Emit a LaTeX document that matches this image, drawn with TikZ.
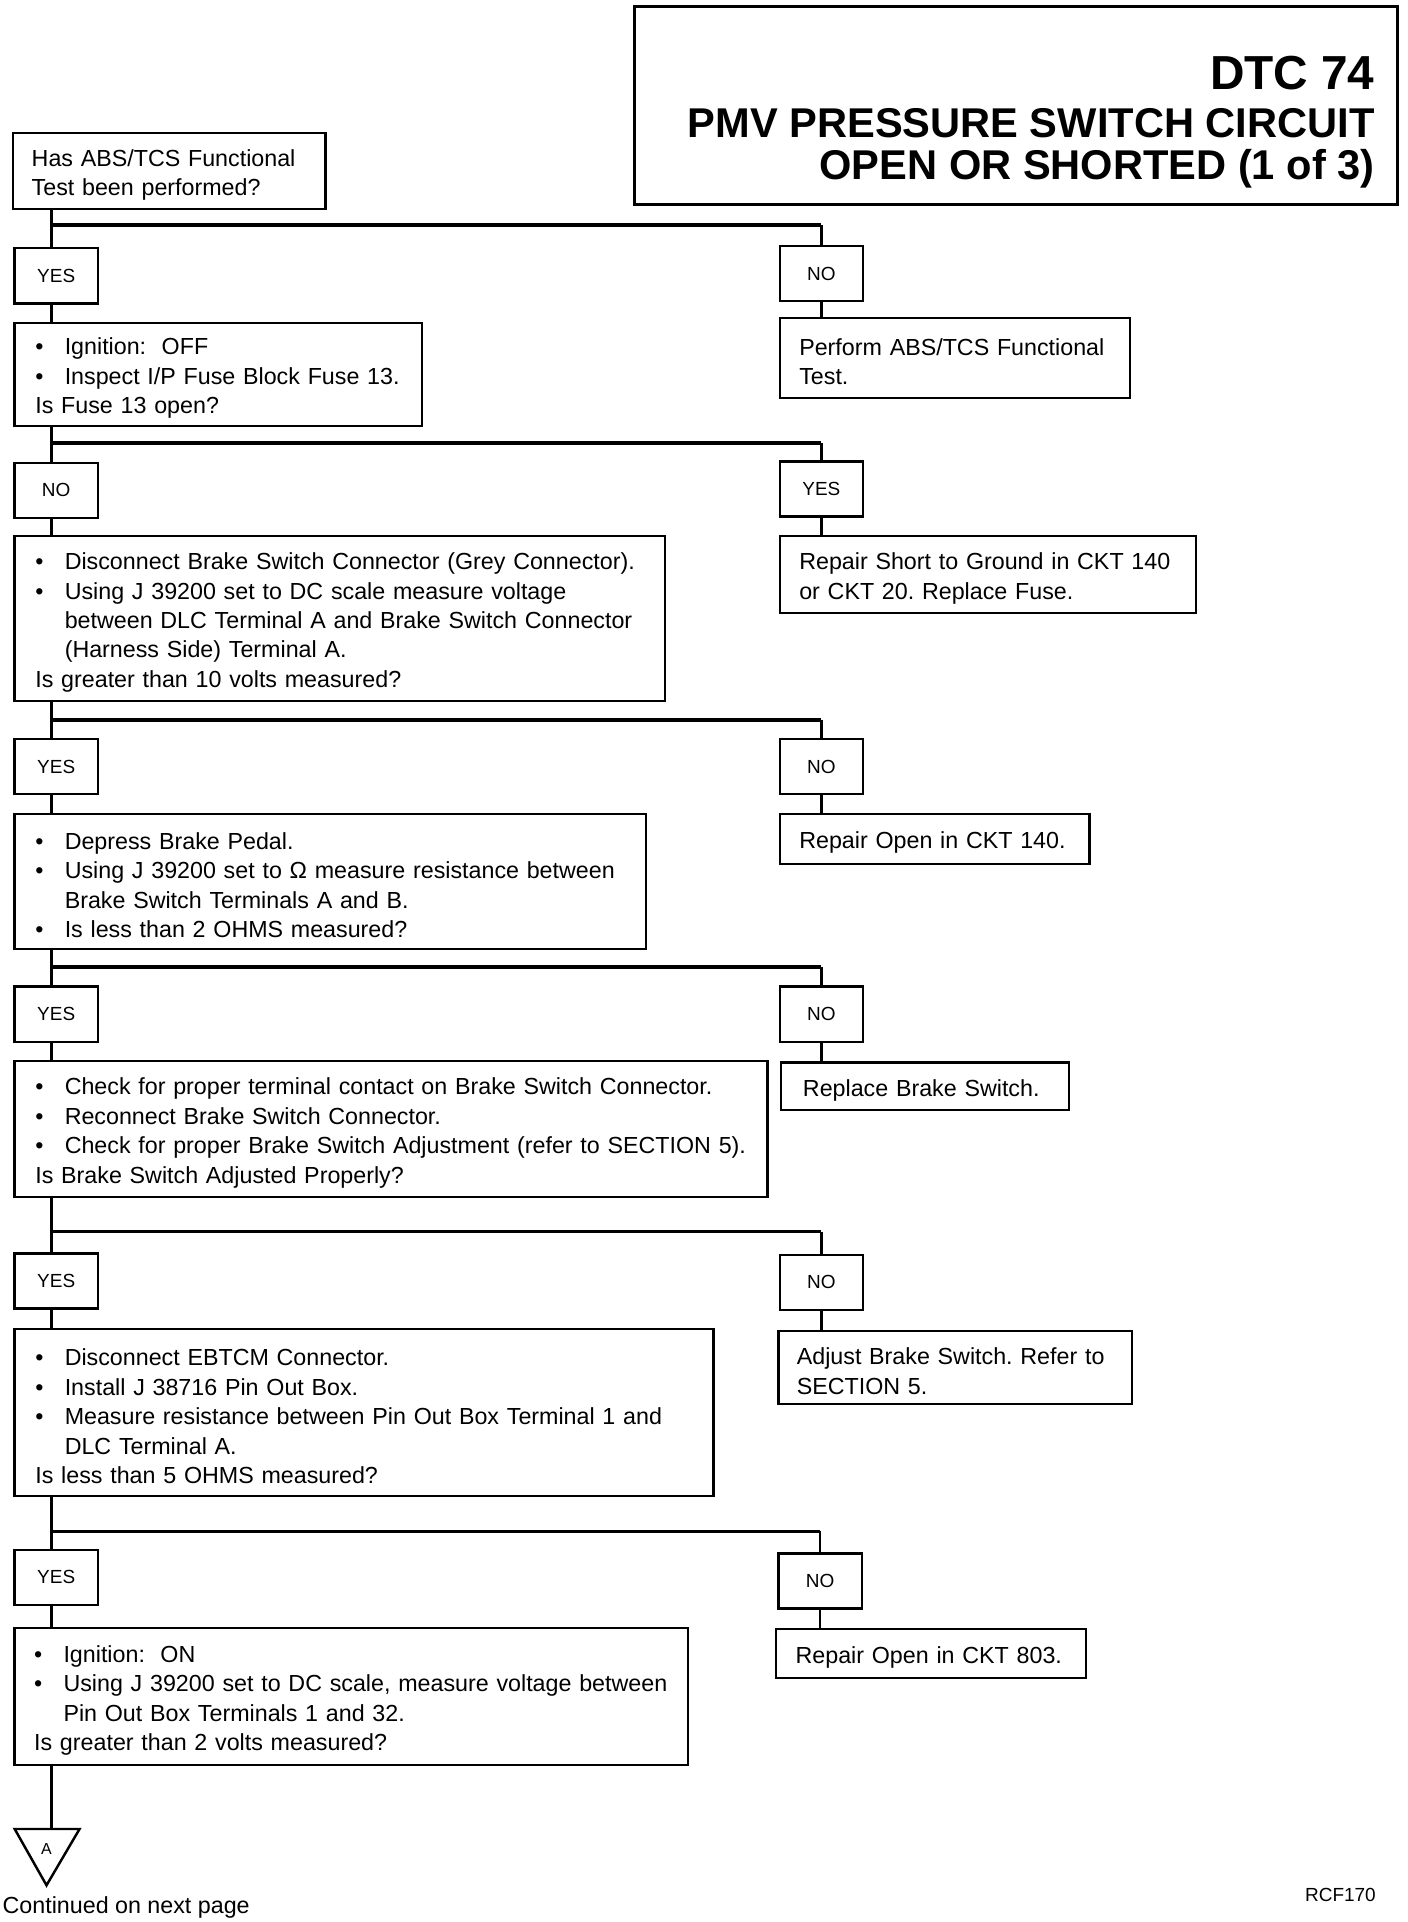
\documentclass[tikz,border=0pt]{standalone}
\usepackage{fontspec}
\setmainfont{Liberation Sans}
\frenchspacing
\newcommand{\bodyfont}{\fontsize{19}{24}\selectfont}
\newcommand{\lblfont}{\fontsize{15.5}{18}\selectfont}
\newcommand{\itm}[1]{\mbox{\makebox[24pt][l]{\textbullet}#1}}
\newcommand{\hang}[1]{\mbox{\hspace*{24pt}#1}}
\newcommand{\plain}[1]{\mbox{#1}}
\tikzset{
  qbox/.style={draw, line width=1.8pt, anchor=north west, align=left,
    inner xsep=17pt, inner ysep=0pt, font=\bodyfont,
    execute at begin node={\rule{0pt}{20pt}}},
  rbox/.style={qbox, inner xsep=16pt},
  lbl/.style={draw, line width=1.8pt, anchor=north west, minimum width=68pt,
    minimum height=45pt, inner sep=0pt, font=\lblfont},
  link/.style={line width=2.2pt},
  branch/.style={line width=3pt},
  titletext/.style={anchor=base east, inner sep=0pt, font=\fontsize{34}{36}\bfseries\selectfont},
}
\begin{document}
\begin{tikzpicture}[x=1pt,y=-1pt]
\useasboundingbox (0,0) rectangle (1150,1570);
% title
\node[draw, line width=2.4pt, anchor=north west, minimum width=623pt,
  minimum height=162pt, inner sep=0pt] (title) at (517,4) {};
\node[titletext, font=\fontsize{39}{40}\bfseries\selectfont] (dtc) at (1123,73) {DTC 74};
\node[titletext] (pmv) at (1123,112) {PMV PRESSURE SWITCH CIRCUIT};
\node[titletext] (open) at (1123,147) {OPEN OR SHORTED (1 of 3)};
\coordinate (trunk) at (42,0);
% step 1
\node[qbox, inner xsep=15pt, text width=225pt, minimum height=62pt] (q1) at (10,108)
  {\plain{Has ABS/TCS Functional}\\ \plain{Test been performed?}};
\node[lbl] (yes1) at (11,202) {YES};
\node[lbl] (no1) at (636,200) {NO};
\node[rbox, text width=254pt, minimum height=65pt] (r1) at (636,259)
  {\plain{Perform ABS/TCS Functional}\\ \plain{Test.}};
\coordinate (b1) at (42,184);
\draw[link] (q1.south -| trunk) -- (yes1.north -| trunk);
\draw[branch] (b1) -- (b1 -| no1.north);
\draw[link] (b1 -| no1.north) -- (no1.north);
\draw[link] (no1.south) -- (no1.south |- r1.north);
% step 2
\node[qbox, text width=299pt, minimum height=84pt] (q2) at (11,263)
  {\itm{Ignition:\ \ OFF}\\ \itm{Inspect I/P Fuse Block Fuse 13.}\\ \plain{Is Fuse 13 open?}};
\draw[link] (yes1.south -| trunk) -- (q2.north -| trunk);
\node[lbl] (no2) at (11,377) {NO};
\node[lbl] (yes2) at (636,376) {YES};
\node[rbox, text width=308pt, minimum height=63pt] (r2) at (636,437)
  {\plain{Repair Short to Ground in CKT 140}\\ \plain{or CKT 20. Replace Fuse.}};
\coordinate (b2) at (42,362);
\draw[link] (q2.south -| trunk) -- (no2.north -| trunk);
\draw[branch] (b2) -- (b2 -| yes2.north);
\draw[link] (b2 -| yes2.north) -- (yes2.north);
\draw[link] (yes2.south) -- (yes2.south |- r2.north);
% step 3
\node[qbox, text width=497pt, minimum height=135pt] (q3) at (11,437)
  {\itm{Disconnect Brake Switch Connector (Grey Connector).}\\
   \itm{Using J 39200 set to DC scale measure voltage}\\
   \hang{between DLC Terminal A and Brake Switch Connector}\\
   \hang{(Harness Side) Terminal A.}\\
   \plain{Is greater than 10 volts measured?}};
\draw[link] (no2.south -| trunk) -- (q3.north -| trunk);
\node[lbl] (yes3) at (11,603) {YES};
\node[lbl] (no3) at (636,603) {NO};
\node[rbox, text width=221pt, minimum height=41pt] (r3) at (636,664)
  {\plain{Repair Open in CKT 140.}};
\coordinate (b3) at (42,588);
\draw[link] (q3.south -| trunk) -- (yes3.north -| trunk);
\draw[branch] (b3) -- (b3 -| no3.north);
\draw[link] (b3 -| no3.north) -- (no3.north);
\draw[link] (no3.south) -- (no3.south |- r3.north);
% step 4
\node[qbox, text width=482pt, minimum height=110pt] (q4) at (11,664)
  {\itm{Depress Brake Pedal.}\\
   \itm{Using J 39200 set to Ω measure resistance between}\\
   \hang{Brake Switch Terminals A and B.}\\
   \itm{Is less than 2 OHMS measured?}};
\draw[link] (yes3.south -| trunk) -- (q4.north -| trunk);
\node[lbl] (yes4) at (11,805) {YES};
\node[lbl] (no4) at (636,805) {NO};
\node[rbox, inner xsep=18pt, text width=199pt, minimum height=39pt] (r4) at (637,867)
  {\plain{Replace Brake Switch.}};
\coordinate (b4) at (42,790);
\draw[link] (q4.south -| trunk) -- (yes4.north -| trunk);
\draw[branch] (b4) -- (b4 -| no4.north);
\draw[link] (b4 -| no4.north) -- (no4.north);
\draw[link] (no4.south) -- (no4.south |- r4.north);
% step 5
\node[qbox, text width=581pt, minimum height=111pt] (q5) at (11,866)
  {\itm{Check for proper terminal contact on Brake Switch Connector.}\\
   \itm{Reconnect Brake Switch Connector.}\\
   \itm{Check for proper Brake Switch Adjustment (refer to SECTION 5).}\\
   \plain{Is Brake Switch Adjusted Properly?}};
\draw[link] (yes4.south -| trunk) -- (q5.north -| trunk);
\node[lbl] (yes5) at (11,1023) {YES};
\node[lbl] (no5) at (636,1024) {NO};
\node[rbox, inner xsep=15pt, text width=259pt, minimum height=60pt] (r5) at (635,1086)
  {\plain{Adjust Brake Switch. Refer to}\\ \plain{SECTION 5.}};
\coordinate (b5) at (42,1006);
\draw[link] (q5.south -| trunk) -- (yes5.north -| trunk);
\draw[branch] (b5) -- (b5 -| no5.north);
\draw[link] (b5 -| no5.north) -- (no5.north);
\draw[link] (no5.south) -- (no5.south |- r5.north);
% step 6
\node[qbox, text width=537pt, minimum height=136pt] (q6) at (11,1085)
  {\itm{Disconnect EBTCM Connector.}\\
   \itm{Install J 38716 Pin Out Box.}\\
   \itm{Measure resistance between Pin Out Box Terminal 1 and}\\
   \hang{DLC Terminal A.}\\
   \plain{Is less than 5 OHMS measured?}};
\draw[link] (yes5.south -| trunk) -- (q6.north -| trunk);
\node[lbl] (yes6) at (11,1265) {YES};
\node[lbl] (no6) at (635,1268) {NO};
\node[rbox, text width=221pt, minimum height=40pt] (r6) at (633,1330)
  {\plain{Repair Open in CKT 803.}};
\coordinate (b6) at (42,1251);
\draw[link] (q6.south -| trunk) -- (yes6.north -| trunk);
\draw[branch] (b6) -- (b6 -| no6.north);
\draw[link] (b6 -| no6.north) -- (no6.north);
\draw[link] (no6.south) -- (no6.south |- r6.north);
% step 7
\node[qbox, inner xsep=16pt, text width=518pt, minimum height=112pt] (q7) at (11,1329)
  {\itm{Ignition:\ \ ON}\\
   \itm{Using J 39200 set to DC scale, measure voltage between}\\
   \hang{Pin Out Box Terminals 1 and 32.}\\
   \plain{Is greater than 2 volts measured?}};
\draw[link] (yes6.south -| trunk) -- (q7.north -| trunk);
% continued
\coordinate (tritop) at (42,1494);
\draw[link] (q7.south -| trunk) -- (tritop);
\draw[line width=2pt] (12,1494) -- (65,1494) -- (38,1540) -- cycle;
\node[inner sep=0pt, font=\fontsize{13}{13}\selectfont] (conta) at (38,1510) {A};
\node[anchor=base west, inner sep=0pt, font=\bodyfont] (cont) at (2,1563) {Continued on next page};
\node[anchor=base east, inner sep=0pt, font=\lblfont] (fig) at (1124,1553) {RCF170};
\end{tikzpicture}
\end{document}
